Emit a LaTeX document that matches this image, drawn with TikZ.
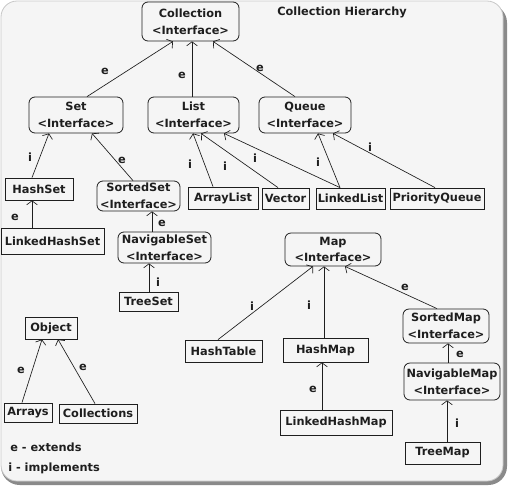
\documentclass[tikz,border=0pt]{standalone}
\usepackage{fontspec}
\setmainfont{DejaVu Sans}
\usetikzlibrary{arrows.meta}
\definecolor{bgc}{HTML}{F5F5F5}
\definecolor{framec}{HTML}{C8C8C8}
\definecolor{shadowc}{HTML}{8A8A8A}
\definecolor{inkc}{HTML}{1E1E1E}
\begin{document}
\begin{tikzpicture}[x=0.75pt,y=-0.75pt,
  font=\fontsize{8.5}{12.5}\selectfont\bfseries, text=inkc,
  box/.style={draw=inkc, line width=0.6pt, inner sep=0pt, align=center},
  rbox/.style={box, rounded corners=4.5pt},
  arr/.style={draw=inkc, line width=0.5pt, -{Straight Barb[length=3pt,width=8pt,line width=0.5pt]}},
  lbl/.style={inner sep=0pt, font=\fontsize{8.5}{10}\selectfont\bfseries}]
\useasboundingbox (0,0) rectangle (510,486);
% frame
\fill[shadowc, rounded corners=14pt] (1,4) rectangle (507,485);
\fill[bgc, rounded corners=12pt] (1,1) rectangle (503,481);
\draw[framec, line width=0.6pt, rounded corners=12pt] (1,1) rectangle (503,481);

\node[inner sep=0pt] (title) at (342,12) {Collection Hierarchy};

% nodes
\node[rbox, minimum width=97*0.75pt, minimum height=39*0.75pt] (coll) at (190.5,21.5) {Collection\\<Interface>};
\node[rbox, minimum width=94*0.75pt, minimum height=36*0.75pt] (set) at (76,115) {Set\\<Interface>};
\node[rbox, minimum width=91*0.75pt, minimum height=36*0.75pt] (list) at (193.5,115) {List\\<Interface>};
\node[rbox, minimum width=92*0.75pt, minimum height=36*0.75pt] (queue) at (305,115) {Queue\\<Interface>};
\node[box, minimum width=68*0.75pt, minimum height=22*0.75pt] (hashset) at (39,189) {HashSet};
\node[rbox, minimum width=83*0.75pt, minimum height=30*0.75pt] (sortedset) at (138.5,196) {SortedSet\\<Interface>};
\node[box, minimum width=70*0.75pt, minimum height=22*0.75pt] (arraylist) at (223,198) {ArrayList};
\node[box, minimum width=47*0.75pt, minimum height=21*0.75pt] (vector) at (285.5,198.5) {Vector};
\node[box, minimum width=69*0.75pt, minimum height=21*0.75pt] (linkedlist) at (350.5,198.5) {LinkedList};
\node[box, minimum width=94*0.75pt, minimum height=21*0.75pt] (pq) at (437,198.5) {PriorityQueue};
\node[box, minimum width=103*0.75pt, minimum height=26*0.75pt] (lhs) at (52.5,241) {LinkedHashSet};
\node[rbox, minimum width=93*0.75pt, minimum height=31*0.75pt] (navset) at (164.5,247.5) {NavigableSet\\<Interface>};
\node[box, minimum width=59*0.75pt, minimum height=19*0.75pt] (treeset) at (148.5,301.5) {TreeSet};
\node[box, minimum width=52*0.75pt, minimum height=22*0.75pt] (object) at (51,328) {Object};
\node[box, minimum width=48*0.75pt, minimum height=19*0.75pt] (arrays) at (28,412.5) {Arrays};
\node[box, minimum width=78*0.75pt, minimum height=19*0.75pt] (collections) at (98,413.5) {Collections};
\node[box, minimum width=77*0.75pt, minimum height=22*0.75pt] (hashtable) at (223.5,351) {HashTable};
\node[rbox, minimum width=96*0.75pt, minimum height=33*0.75pt] (map) at (333,249.5) {Map\\<Interface>};
\node[box, minimum width=85*0.75pt, minimum height=24*0.75pt] (hashmap) at (325.5,350) {HashMap};
\node[box, minimum width=112*0.75pt, minimum height=25*0.75pt] (lhm) at (336,422.5) {LinkedHashMap};
\node[rbox, minimum width=86*0.75pt, minimum height=34*0.75pt] (sortedmap) at (446,326) {SortedMap\\<Interface>};
\node[rbox, minimum width=96*0.75pt, minimum height=37*0.75pt] (navmap) at (452,381.5) {NavigableMap\\<Interface>};
\node[box, minimum width=75*0.75pt, minimum height=22*0.75pt] (treemap) at (442.5,453) {TreeMap};

% edges
\draw[arr] ([shift={(11,0)}]set.north) -- ([shift={(-17.5,0)}]coll.south);
\draw[arr] ([shift={(-1.5,0)}]list.north) -- ([shift={(1.5,0)}]coll.south);
\draw[arr] ([shift={(-10,0)}]queue.north) -- ([shift={(22.5,0)}]coll.south);
\draw[arr] ([shift={(-7,0)}]hashset.north) -- ([shift={(-27,0)}]set.south);
\draw[arr] ([shift={(-5.5,0)}]sortedset.north) -- ([shift={(16,0)}]set.south);
\draw[arr] ([shift={(-20.5,0)}]lhs.north) -- ([shift={(-7,0)}]hashset.south);
\draw[arr] ([shift={(-12.5,0)}]navset.north) -- ([shift={(13.5,0)}]sortedset.south);
\draw[arr] ([shift={(0.5,0)}]treeset.north) -- ([shift={(-15.5,0)}]navset.south);
\draw[arr] ([shift={(-10,0)}]arraylist.north) -- ([shift={(-0.5,0)}]list.south);
\draw[arr] ([shift={(-7.5,0)}]vector.north) -- ([shift={(7.5,0)}]list.south);
\draw[arr] ([shift={(-10.5,0)}]linkedlist.north) -- ([shift={(30.5,0)}]list.south);
\draw[arr] ([shift={(-10.5,0)}]linkedlist.north) -- ([shift={(13,0)}]queue.south);
\draw[arr] ([shift={(-2,0)}]pq.north) -- ([shift={(28,0)}]queue.south);
\draw[arr] ([shift={(-6,0)}]arrays.north) -- ([shift={(-9,0)}]object.south);
\draw[arr] ([shift={(-3,0)}]collections.north) -- ([shift={(7,0)}]object.south);
\draw[arr] ([shift={(-5.5,0)}]hashtable.north) -- ([shift={(-20,0)}]map.south);
\draw[arr] ([shift={(-1.5,0)}]hashmap.north) -- ([shift={(-9,0)}]map.south);
\draw[arr] ([shift={(-9,0)}]sortedmap.north) -- ([shift={(12,0)}]map.south);
\draw[arr] ([shift={(-14,0)}]lhm.north) -- ([shift={(-3.5,0)}]hashmap.south);
\draw[arr] ([shift={(-4,0)}]navmap.north) -- ([shift={(2,0)}]sortedmap.south);
\draw[arr] ([shift={(4.5,0)}]treemap.north) -- ([shift={(-5,0)}]navmap.south);

% edge labels
\node[lbl] (l1) at (105,71) {e};
\node[lbl] (l2) at (182,75) {e};
\node[lbl] (l3) at (260,68) {e};
\node[lbl] (l4) at (30,157) {i};
\node[lbl] (l5) at (122,160) {e};
\node[lbl] (l6) at (15,217) {e};
\node[lbl] (l7) at (162,223) {e};
\node[lbl] (l8) at (158,282) {i};
\node[lbl] (l9) at (190,164) {i};
\node[lbl] (l10) at (225,166) {i};
\node[lbl] (l11) at (255,158) {i};
\node[lbl] (l12) at (318,162) {i};
\node[lbl] (l13) at (370,147) {i};
\node[lbl] (l14) at (21,370) {e};
\node[lbl] (l15) at (83,367) {e};
\node[lbl] (l16) at (252,306) {i};
\node[lbl] (l17) at (309,305) {i};
\node[lbl] (l18) at (405,287) {e};
\node[lbl] (l19) at (313,389) {e};
\node[lbl] (l20) at (460,354) {e};
\node[lbl] (l21) at (457,423) {i};

% legend
\node[anchor=west, inner sep=0pt] (leg1) at (10,447) {e - extends};
\node[anchor=west, inner sep=0pt] (leg2) at (8,468) {i - implements};
\end{tikzpicture}
\end{document}
